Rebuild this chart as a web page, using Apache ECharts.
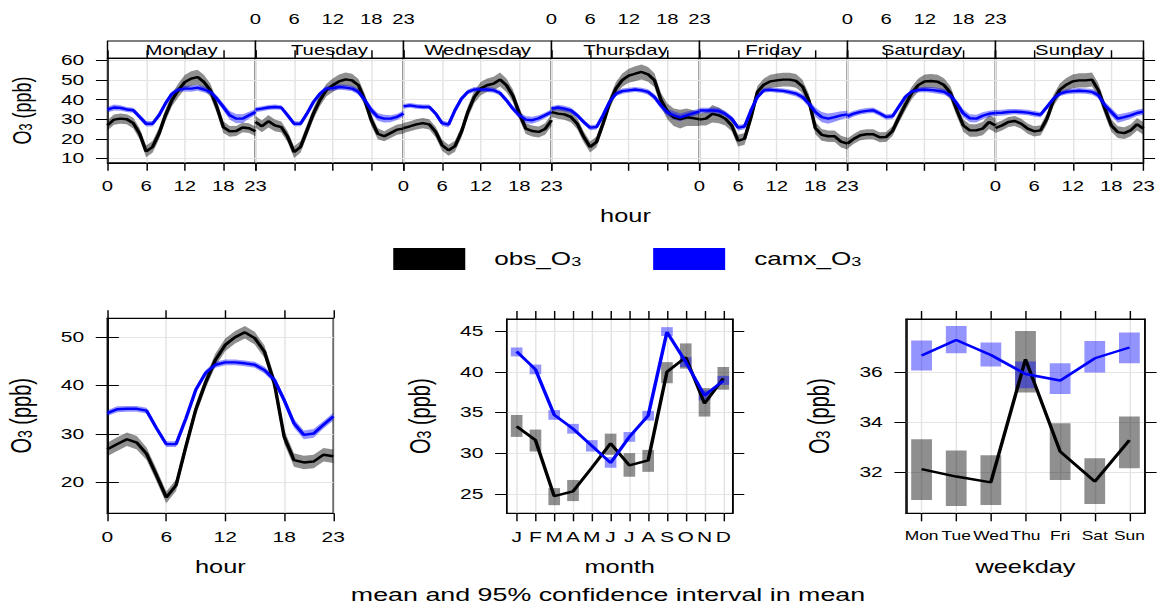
<!DOCTYPE html>
<html><head><meta charset="utf-8">
<script src="https://cdn.jsdelivr.net/npm/echarts@6/dist/echarts.min.js"></script>
<style>
html,body{margin:0;padding:0;background:#fff;overflow:hidden;}
#wrap{width:1163px;height:606px;overflow:hidden;}
#chart{width:802px;height:606px;transform:scaleX(1.4501);transform-origin:0 0;}
</style></head><body><div id="wrap"><div id="chart"></div></div>
<script>
// ---------------- data ----------------
const hours = [0,1,2,3,4,5,6,7,8,9,10,11,12,13,14,15,16,17,18,19,20,21,22,23];
const dayNames = ['Monday','Tuesday','Wednesday','Thursday','Friday','Saturday','Sunday'];
const topYTicks = [10,20,30,40,50,60];

const obsMon = [26.9,29.8,30.3,30.0,28.0,22.6,13.5,15.8,22.6,32.0,39.7,44.8,49.0,50.8,51.6,49.0,44.8,36.3,26.0,23.8,24.0,25.8,25.4,23.8];
const obsTue = [28.6,26.4,29.0,26.9,26.0,21.0,13.2,15.8,24.3,32.9,39.7,44.8,47.4,49.4,50.4,49.9,47.4,39.7,29.5,22.6,21.3,23.0,24.7,25.2];
const obsWed = [25.5,26.4,27.4,28.0,27.4,23.5,16.7,14.1,16.2,23.5,33.7,41.4,45.7,47.4,48.2,50.3,47.4,42.0,33.0,25.2,24.0,23.5,25.0,29.5];
const obsThu = [33.7,32.9,32.5,31.2,27.7,21.0,15.8,18.4,27.7,38.0,45.7,50.0,52.3,53.3,54.2,53.0,50.0,40.0,34.0,31.0,30.0,31.0,30.6,30.0];
const obsFri = [29.8,30.3,32.8,32.0,30.3,26.8,19.0,20.0,31.0,44.0,47.7,49.4,49.9,50.3,50.3,49.6,46.8,39.7,25.5,22.0,21.3,21.3,18.5,17.5];
const obsSat = [17.5,20.0,21.8,22.3,22.3,20.8,20.9,24.0,31.0,37.5,43.5,47.5,49.4,49.6,49.2,47.5,43.5,34.6,26.8,24.3,24.3,25.2,28.6,26.8];
const obsSun = [25.5,26.8,28.6,29.1,27.7,25.2,23.8,24.3,30.3,39.6,45.1,47.7,49.4,49.9,49.9,50.3,44.8,35.4,26.8,23.4,22.9,24.3,27.4,25.2];

const camxMon = [34.9,36.0,35.8,35.0,34.6,31.2,27.7,27.7,32.0,38.0,43.0,45.2,45.7,45.7,46.2,45.2,44.0,40.5,36.3,32.0,30.3,30.3,32.0,33.7];
const camxTue = [34.9,35.4,36.0,36.3,36.0,32.0,27.7,27.7,32.9,38.8,43.0,45.7,46.0,46.5,46.2,45.7,44.0,39.7,34.6,31.2,30.3,30.3,31.2,32.9];
const camxWed = [36.6,37.1,36.6,36.3,36.3,32.9,28.0,27.2,34.6,40.5,44.0,45.2,45.2,45.2,44.8,43.4,39.7,35.4,32.0,29.8,29.5,30.5,32.0,33.7];
const camxThu = [35.4,36.0,35.4,34.6,32.0,28.6,25.7,26.0,32.0,38.8,43.0,44.4,44.8,45.2,44.8,44.0,41.4,37.1,33.5,32.0,31.0,32.0,33.0,34.0];
const camxFri = [34.5,34.5,34.5,34.2,32.8,30.3,25.7,26.3,34.5,41.4,44.8,45.1,44.8,44.5,43.9,43.1,41.4,38.0,33.7,31.1,30.3,31.1,32.0,32.5];
const camxSat = [31.5,32.9,33.8,34.3,34.6,33.0,31.2,31.5,36.5,41.5,44.2,45.0,45.2,45.0,44.6,44.0,42.3,37.9,33.0,30.5,30.3,31.8,32.8,33.2];
const camxSun = [33.2,33.3,33.7,33.9,33.7,33.4,32.8,32.3,36.3,40.5,43.1,44.0,44.4,44.6,44.4,44.0,42.3,37.1,33.7,30.3,31.1,32.0,33.2,33.9];

// 95% CI half-widths
const obsCiMon = [2.6,2.6,2.6,2.6,2.7,2.8,3.0,3.0,3.0,3.0,3.2,3.5,3.7,3.8,3.8,3.6,3.4,3.2,3.0,2.7,2.6,2.5,2.5,2.5];
const obsCiTue = [3.0,3.0,3.2,3.0,2.8,2.8,3.0,3.0,3.0,3.0,3.0,3.2,3.4,3.5,3.5,3.4,3.2,3.2,3.0,2.8,2.6,2.6,2.6,2.6];
const obsCiWed = [2.6,2.6,2.6,2.6,2.6,2.7,2.8,2.8,2.8,2.8,3.0,3.2,3.4,3.5,3.6,3.6,3.4,3.2,3.0,2.8,2.8,2.8,3.0,3.0];
const obsCiThu = [2.6,2.7,2.8,2.8,2.8,2.8,2.8,2.8,2.8,3.0,3.2,3.4,3.6,3.8,3.8,3.8,3.6,3.6,4.0,4.5,4.8,4.5,4.0,3.5];
const obsCiFri = [3.0,3.5,4.5,4.0,3.5,3.0,3.0,3.0,3.0,3.0,3.2,3.4,3.5,3.5,3.5,3.5,3.4,3.2,3.2,3.0,3.0,3.0,3.0,3.0];
const obsCiSat = [2.6,2.6,2.6,2.6,2.6,2.6,2.6,2.6,2.8,3.0,3.2,3.4,3.5,3.6,3.6,3.5,3.4,3.2,3.2,3.2,3.2,3.4,3.6,3.6];
const obsCiSun = [2.6,2.6,2.6,2.6,2.6,2.6,2.6,2.6,2.8,3.0,3.2,3.4,3.5,3.6,3.6,3.6,3.5,3.3,3.2,3.0,3.0,3.0,3.2,3.2];

const camxCiMon = [1.5,1.5,1.4,1.3,1.3,1.3,1.4,1.4,1.3,1.2,1.2,1.3,1.5,1.6,1.6,1.5,1.5,1.6,1.8,2.2,2.4,2.2,1.8,1.5];
const camxCiTue = [1.3,1.3,1.3,1.3,1.2,1.2,1.3,1.3,1.2,1.2,1.2,1.3,1.4,1.4,1.4,1.4,1.5,1.6,1.8,2.0,2.0,1.8,1.6,1.5];
const camxCiWed = [1.2,1.2,1.2,1.2,1.2,1.2,1.4,1.4,1.2,1.2,1.2,1.3,1.3,1.3,1.3,1.3,1.4,1.5,1.7,1.8,1.8,1.6,1.5,1.4];
const camxCiThu = [1.3,1.4,1.5,1.4,1.3,1.3,1.3,1.3,1.2,1.2,1.2,1.3,1.3,1.3,1.3,1.4,1.5,1.7,1.9,2.1,2.0,1.8,1.6,1.5];
const camxCiFri = [1.4,1.4,1.5,1.5,1.4,1.3,1.4,1.4,1.3,1.2,1.2,1.2,1.2,1.2,1.3,1.4,1.6,1.9,2.3,2.6,2.6,2.4,2.1,1.8];
const camxCiSat = [1.6,1.5,1.4,1.4,1.4,1.4,1.4,1.4,1.3,1.2,1.2,1.3,1.4,1.5,1.5,1.5,1.6,1.8,2.0,2.1,2.0,1.8,1.6,1.5];
const camxCiSun = [1.5,1.5,1.5,1.4,1.4,1.4,1.4,1.4,1.3,1.2,1.2,1.3,1.4,1.4,1.4,1.5,1.6,1.8,2.0,2.1,2.0,1.8,1.6,1.6];

// overall diurnal profile
const obsHour  = [26.8,27.9,28.9,28.2,25.9,21.5,16.9,19.4,27.4,35.0,40.6,45.3,48.4,50.0,51.0,49.8,47.0,40.5,29.4,24.6,24.1,24.3,25.7,25.4];
const camxHour = [34.3,35.1,35.2,35.2,34.8,31.2,27.9,27.9,33.2,39.1,42.6,44.3,44.8,44.8,44.6,44.3,43.2,41.2,37.0,32.2,29.8,30.1,31.9,33.6];
const obsHourCi  = [1.4,1.4,1.4,1.4,1.3,1.3,1.2,1.2,1.2,1.2,1.2,1.3,1.3,1.3,1.3,1.3,1.3,1.4,1.4,1.4,1.4,1.4,1.4,1.4];
const camxHourCi = [0.6,0.6,0.6,0.6,0.6,0.6,0.6,0.6,0.6,0.6,0.6,0.6,0.6,0.6,0.6,0.6,0.7,0.7,0.8,0.9,0.9,0.9,0.8,0.8];
const hourYTicks = [20,30,40,50];

// monthly
const monthPos = [1,2,3,4,5,6,7,8,9,10,11,12];
const monthLabels = ['J','F','M','A','M','J','J','A','S','O','N','D'];
const obsMonth   = [33.3,31.6,24.7,25.3,28.2,31.2,28.5,29.1,40.0,41.8,36.1,39.2];
const obsMonthLo = [32.0,30.2,23.6,24.1,null,29.8,27.1,27.7,38.6,40.4,34.5,37.8];
const obsMonthHi = [34.7,32.9,25.7,26.7,null,32.4,30.0,30.4,41.2,43.5,38.0,40.6];
const camxMonth   = [42.5,40.3,34.7,33.0,30.9,28.8,32.0,34.6,44.9,41.2,37.1,38.9];
const camxMonthLo = [41.9,39.7,34.1,32.4,30.2,28.2,31.4,34.0,44.4,40.6,36.5,38.4];
const camxMonthHi = [43.0,40.9,35.3,33.6,31.6,29.5,32.6,35.2,45.5,41.8,37.7,39.5];
const monthYTicks = [25,30,35,40,45];

// weekday
const weekdayPos = [1,2,3,4,5,6,7];
const weekdayLabels = ['Mon','Tue','Wed','Thu','Fri','Sat','Sun'];
const obsWeekday   = [32.13,31.83,31.60,36.52,32.83,31.63,33.29];
const obsWeekdayLo = [30.89,30.65,30.69,35.19,31.69,30.73,32.16];
const obsWeekdayHi = [33.32,32.87,32.68,37.65,33.96,32.56,34.23];
const camxWeekday   = [36.67,37.29,36.69,35.93,35.67,36.56,36.99];
const camxWeekdayLo = [36.07,36.76,36.23,35.36,35.13,35.99,36.36];
const camxWeekdayHi = [37.27,37.85,37.19,36.43,36.36,37.25,37.59];
const weekdayYTicks = [32,34,36];

// ---------------- chart ----------------
const S = 1.4501;              // horizontal stretch of the reference image
const X = px => px / S;
const FONT = '"Liberation Sans", Arial, Helvetica, sans-serif';
const BLACK = '#000';
const OBS_COL = '#000000', CAMX_COL = '#0000ff';
const OBS_BAND = 'rgba(0,0,0,0.44)', CAMX_BAND = 'rgba(0,0,255,0.42)';

const obsByDay  = [obsMon,obsTue,obsWed,obsThu,obsFri,obsSat,obsSun];
const camxByDay = [camxMon,camxTue,camxWed,camxThu,camxFri,camxSat,camxSun];
const obsCiByDay  = [obsCiMon,obsCiTue,obsCiWed,obsCiThu,obsCiFri,obsCiSat,obsCiSun];
const camxCiByDay = [camxCiMon,camxCiTue,camxCiWed,camxCiThu,camxCiFri,camxCiSat,camxCiSun];

const grid = [], xAxis = [], yAxis = [], series = [], graphic = [];
const lineBlack = {lineStyle:{color:BLACK, width:1}};
const splitGrey = {show:true, lineStyle:{color:'#e4e4e4', width:1}};
const subRich = size => ({s:{fontSize:size, verticalAlign:'bottom', fontFamily:FONT, color:BLACK}});

function addGrid(l, w, t, h) {
  grid.push({left:X(l), width:X(w), top:t, height:h, show:true, borderColor:BLACK, borderWidth:1,
             backgroundColor:'#fff', containLabel:false, outerBoundsMode:'none'});
  return grid.length - 1;
}
function bandSeries(xi, yi, xs, mean, hw, color) {
  return {type:'custom', xAxisIndex:xi, yAxisIndex:yi, silent:true, z:2, animation:false,
    data: xs.map((x,k) => [x, mean[k]-hw[k], mean[k]+hw[k]]),
    encode:{x:0, y:[1,2]},
    renderItem:(params, api) => {
      if (params.dataIndexInside !== 0) return null;
      const n = params.dataInsideLength, up = [], lo = [];
      for (let j = 0; j < n; j++) {
        const x = api.value(0, j);
        up.push(api.coord([x, api.value(2, j)]));
        lo.push(api.coord([x, api.value(1, j)]));
      }
      return {type:'polygon', shape:{points: up.concat(lo.reverse())}, style:{fill:color, stroke:null}};
    }};
}
function boxSeries(xi, yi, xs, lo, hi, color, halfW) {
  return {type:'custom', xAxisIndex:xi, yAxisIndex:yi, silent:true, z:2, animation:false,
    data: xs.map((x,k) => [x, lo[k], hi[k]]),
    encode:{x:0, y:[1,2]},
    renderItem:(params, api) => {
      const x = api.value(0), l = api.value(1), h = api.value(2);
      if (isNaN(l) || isNaN(h)) return null;
      const a = api.coord([x - halfW, h]), b = api.coord([x + halfW, l]);
      return {type:'rect', shape:{x:a[0], y:a[1], width:b[0]-a[0], height:b[1]-a[1]}, style:{fill:color}};
    }};
}
function lineSeries(name, xi, yi, xs, ys, color) {
  return {type:'line', name, xAxisIndex:xi, yAxisIndex:yi, data: xs.map((x,k) => [x, ys[k]]),
    symbol:'none', lineStyle:{color, width:2.4}, itemStyle:{color}, color, z:3, silent:true, animation:false};
}

// ----- top: hour by weekday -----
const P0 = 107.5, PW = 148;
for (let i = 0; i < 7; i++) {
  const left = P0 + i*PW;
  const gs = addGrid(left, PW, 41, 17.3);
  const gd = addGrid(left, PW, 58.3, 104.5);
  xAxis.push({gridIndex:gs, type:'value', min:0, max:23, interval:6, position:'top',
    axisLine:{show:true, ...lineBlack}, axisTick:{show:true, length:8, ...lineBlack},
    axisLabel:{show:i%2===1, margin:15, fontSize:14, color:BLACK, fontFamily:FONT, showMinLabel:true, showMaxLabel:true},
    splitLine:{show:false}});
  yAxis.push({gridIndex:gs, type:'value', min:0, max:1, show:false});
  const xd = xAxis.push({gridIndex:gd, type:'value', min:0, max:23, interval:6, position:'bottom',
    axisLine:{show:true, ...lineBlack}, axisTick:{show:true, length:8, ...lineBlack},
    axisLabel:{show:i%2===0, margin:16, fontSize:14, color:BLACK, fontFamily:FONT, showMinLabel:true, showMaxLabel:true},
    splitLine:splitGrey,
    name: i===3 ? 'hour' : '', nameLocation:'middle', nameGap:44,
    nameTextStyle:{fontSize:17.5, color:BLACK, fontFamily:FONT}}) - 1;
  const yd = yAxis.push({gridIndex:gd, type:'value', min:7.7, max:61.2, position:'left',
    axisLine:{show:i===0, ...lineBlack},
    axisTick:{show:i===0, length:8, customValues:topYTicks, ...lineBlack},
    axisLabel:{show:i===0, customValues:topYTicks, margin:16, fontSize:14.5, color:BLACK, fontFamily:FONT},
    splitLine:splitGrey,
    name: i===0 ? 'O{s|3} (ppb)' : '', nameLocation:'middle', nameGap:50,
    nameTextStyle:{fontSize:18, color:BLACK, fontFamily:FONT, rich:subRich(12.5)}}) - 1;
  if (i === 6) {
    yAxis.push({gridIndex:gd, type:'value', min:7.7, max:61.2, position:'right',
      axisLine:{show:true, ...lineBlack},
      axisTick:{show:true, length:8, customValues:topYTicks, ...lineBlack},
      axisLabel:{show:false, customValues:topYTicks}, splitLine:{show:false}});
  }
  series.push(bandSeries(xd, yd, hours, obsByDay[i], obsCiByDay[i], OBS_BAND));
  series.push(bandSeries(xd, yd, hours, camxByDay[i], camxCiByDay[i], CAMX_BAND));
  series.push(lineSeries('obs_O3', xd, yd, hours, obsByDay[i], OBS_COL));
  series.push(lineSeries('camx_O3', xd, yd, hours, camxByDay[i], CAMX_COL));
  graphic.push({type:'text', x:X(left + PW/2), y:50, z:100, silent:true,
    style:{text:dayNames[i], fill:BLACK, font:'14px ' + FONT, align:'center', verticalAlign:'middle',
           textAlign:'center', textVerticalAlign:'middle'}});
}

// ----- bottom panels -----
function bottomPanel(l, w, t, h, xCfg, yMin, yMax, yTicks, xName) {
  const g = addGrid(l, w, t, h);
  const xb = xAxis.push(Object.assign({gridIndex:g, type:'value', position:'bottom',
    axisLine:{show:true, ...lineBlack}, axisTick:{show:true, length:8, ...lineBlack},
    splitLine:splitGrey, name:xName, nameLocation:'middle', nameGap:45,
    nameTextStyle:{fontSize:17.5, color:BLACK, fontFamily:FONT}}, xCfg.axis)) - 1;
  xAxis.push(Object.assign({gridIndex:g, type:'value', position:'top',
    axisLine:{show:true, ...lineBlack}, axisTick:{show:true, length:8, ...lineBlack},
    splitLine:{show:false}}, xCfg.axisTop));
  const yl = yAxis.push({gridIndex:g, type:'value', min:yMin, max:yMax, position:'left',
    axisLine:{show:true, ...lineBlack},
    axisTick:{show:true, length:8, customValues:yTicks, ...lineBlack},
    axisLabel:{show:true, customValues:yTicks, margin:16, fontSize:14.5, color:BLACK, fontFamily:FONT},
    splitLine:splitGrey,
    name:'O{s|3} (ppb)', nameLocation:'middle', nameGap:50,
    nameTextStyle:{fontSize:20, color:BLACK, fontFamily:FONT, rich:subRich(14)}}) - 1;
  yAxis.push({gridIndex:g, type:'value', min:yMin, max:yMax, position:'right',
    axisLine:{show:true, ...lineBlack},
    axisTick:{show:true, length:8, customValues:yTicks, ...lineBlack},
    axisLabel:{show:false, customValues:yTicks}, splitLine:{show:false}});
  return [xb, yl];
}
const lbl = {margin:16, fontSize:14.5, color:BLACK, fontFamily:FONT, showMinLabel:true, showMaxLabel:true};

// hour
{
  const cfg = {axis:{min:0, max:23, interval:6, axisLabel:lbl},
               axisTop:{min:0, max:23, interval:6, axisLabel:{show:false}}};
  const [xi, yi] = bottomPanel(107.3, 226, 318.3, 195, cfg, 13.6, 53.9, hourYTicks, 'hour');
  series.push(bandSeries(xi, yi, hours, obsHour, obsHourCi, OBS_BAND));
  series.push(bandSeries(xi, yi, hours, camxHour, camxHourCi, CAMX_BAND));
  series.push(lineSeries('obs_O3', xi, yi, hours, obsHour, OBS_COL));
  series.push(lineSeries('camx_O3', xi, yi, hours, camxHour, CAMX_COL));
}
// month
{
  const cfg = {axis:{min:0.47, max:12.5, axisTick:{show:true, length:8, customValues:monthPos, ...lineBlack},
                     axisLabel:Object.assign({}, lbl, {customValues:monthPos, formatter:v => monthLabels[Math.round(v)-1]})},
               axisTop:{min:0.47, max:12.5, axisTick:{show:true, length:8, customValues:monthPos, ...lineBlack},
                        axisLabel:{show:false, customValues:monthPos}}};
  const [xi, yi] = bottomPanel(506.7, 226, 319, 194.3, cfg, 22.6, 46.5, monthYTicks, 'month');
  series.push(boxSeries(xi, yi, monthPos, obsMonthLo, obsMonthHi, OBS_BAND, 0.31));
  series.push(boxSeries(xi, yi, monthPos, camxMonthLo, camxMonthHi, CAMX_BAND, 0.31));
  series.push(lineSeries('obs_O3', xi, yi, monthPos, obsMonth, OBS_COL));
  series.push(lineSeries('camx_O3', xi, yi, monthPos, camxMonth, CAMX_COL));
}
// weekday
{
  const cfg = {axis:{min:0.55, max:7.45, axisTick:{show:true, length:8, customValues:weekdayPos, ...lineBlack},
                     axisLabel:Object.assign({}, lbl, {fontSize:12, customValues:weekdayPos,
                                             formatter:v => weekdayLabels[Math.round(v)-1]})},
               axisTop:{min:0.55, max:7.45, axisTick:{show:true, length:8, customValues:weekdayPos, ...lineBlack},
                        axisLabel:{show:false, customValues:weekdayPos}}};
  const [xi, yi] = bottomPanel(906, 239, 319, 194.3, cfg, 30.36, 38.13, weekdayYTicks, 'weekday');
  series.push(boxSeries(xi, yi, weekdayPos, obsWeekdayLo, obsWeekdayHi, OBS_BAND, 0.3));
  series.push(boxSeries(xi, yi, weekdayPos, camxWeekdayLo, camxWeekdayHi, CAMX_BAND, 0.3));
  series.push(lineSeries('obs_O3', xi, yi, weekdayPos, obsWeekday, OBS_COL));
  series.push(lineSeries('camx_O3', xi, yi, weekdayPos, camxWeekday, CAMX_COL));
}

graphic.push({type:'text', x:X(608), y:595, z:100, silent:true,
  style:{text:'mean and 95% confidence interval in mean', fill:BLACK, font:'18.5px ' + FONT,
         align:'center', verticalAlign:'middle', textAlign:'center', textVerticalAlign:'middle'}});

const option = {
  animation:false,
  backgroundColor:'#fff',
  textStyle:{fontFamily:FONT},
  grid, xAxis, yAxis, series, graphic,
  legend:{data:['obs_O3','camx_O3'], left:X(386), top:243, itemWidth:X(72), itemHeight:22, itemGap:49.6,
    icon:'rect', selectedMode:false,
    formatter: n => n === 'obs_O3' ? 'obs_O{s|3}' : 'camx_O{s|3}',
    textStyle:{fontSize:18, color:BLACK, fontFamily:FONT, padding:[0,0,0,15], rich:subRich(12.5)}}
};
const chart = echarts.init(document.getElementById('chart'), null, {renderer:'svg'});
chart.setOption(option);
</script></body></html>
